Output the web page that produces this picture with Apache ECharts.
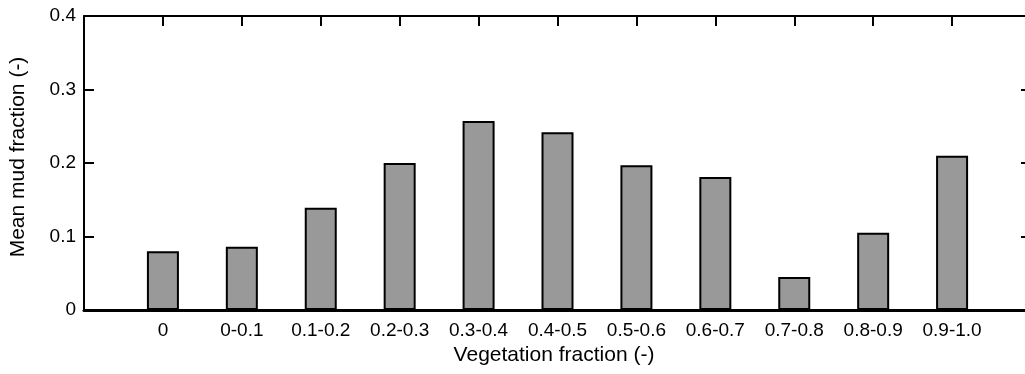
<!DOCTYPE html>
<html>
<head>
<meta charset="utf-8">
<script src="https://cdn.jsdelivr.net/npm/echarts@6/dist/echarts.min.js"></script>
<style>
html,body{margin:0;padding:0;background:#fff;}
#chart{width:1025px;height:374px;}
</style>
</head>
<body>
<div id="chart"></div>
<script>
const categories = ['0', '0-0.1', '0.1-0.2', '0.2-0.3', '0.3-0.4', '0.4-0.5', '0.5-0.6', '0.6-0.7', '0.7-0.8', '0.8-0.9', '0.9-1.0'];
const meanMud = [0.080, 0.086, 0.139, 0.200, 0.257, 0.242, 0.197, 0.181, 0.045, 0.105, 0.210];
const yTicks = [0, 0.1, 0.2, 0.3, 0.4];
const xTitle = 'Vegetation fraction (-)';
const yTitle = 'Mean mud fraction (-)';

const axisCats = [''].concat(categories, ['']);
const seriesData = [null].concat(meanMud, [null]);
const font = 'Liberation Sans, Arial, sans-serif';

const chart = echarts.init(document.getElementById('chart'), null, {renderer: 'canvas'});
chart.setOption({
  animation: false,
  backgroundColor: '#ffffff',
  grid: {left: 84, top: 16, right: -6, bottom: 64, containLabel: false, outerBoundsMode: 'none'},
  xAxis: [
    {
      type: 'category', data: axisCats, boundaryGap: false, position: 'bottom',
      name: xTitle, nameLocation: 'middle', nameGap: 32,
      nameTextStyle: {color: '#000', fontSize: 21, fontFamily: font, padding: [0, 7, 0, 0]},
      axisLine: {show: true, onZero: false, lineStyle: {color: '#000', width: 3}},
      axisTick: {show: false},
      axisLabel: {color: '#000', fontSize: 19, fontFamily: font, margin: 11, interval: 0},
      splitLine: {show: false}
    },
    {
      type: 'value', min: 0, max: axisCats.length - 1, interval: 1, position: 'top',
      axisLine: {show: true, onZero: false, lineStyle: {color: '#000', width: 2}},
      axisTick: {show: true, inside: true, length: 10, lineStyle: {color: '#000', width: 2}},
      axisLabel: {show: false},
      splitLine: {show: false}
    }
  ],
  yAxis: [
    {
      type: 'value', min: 0, max: 0.4, interval: 0.1, position: 'left',
      name: yTitle, nameLocation: 'middle', nameGap: 55, nameRotate: 90,
      nameTextStyle: {color: '#000', fontSize: 21, fontFamily: font, padding: [0, 0, 0, 12]},
      axisLine: {show: true, onZero: false, lineStyle: {color: '#000', width: 2}},
      axisTick: {show: true, inside: true, length: 10, lineStyle: {color: '#000', width: 2}},
      axisLabel: {color: '#000', fontSize: 19, fontFamily: font, margin: 8,
        formatter: function (v) { const t = yTicks.find(x => Math.abs(x - v) < 1e-9); return t === 0 ? '0' : String(t); }},
      splitLine: {show: false}
    },
    {
      type: 'value', min: 0, max: 0.4, interval: 0.1, position: 'right',
      axisLine: {show: true, onZero: false, lineStyle: {color: '#000', width: 2}},
      axisTick: {show: true, inside: true, length: 10, lineStyle: {color: '#000', width: 2}},
      axisLabel: {show: false},
      splitLine: {show: false}
    }
  ],
  series: [{
    type: 'bar',
    xAxisIndex: 0, yAxisIndex: 0,
    data: seriesData,
    barWidth: 32,
    itemStyle: {color: '#999999', borderColor: '#000', borderWidth: 2}
  }]
});
</script>
</body>
</html>
